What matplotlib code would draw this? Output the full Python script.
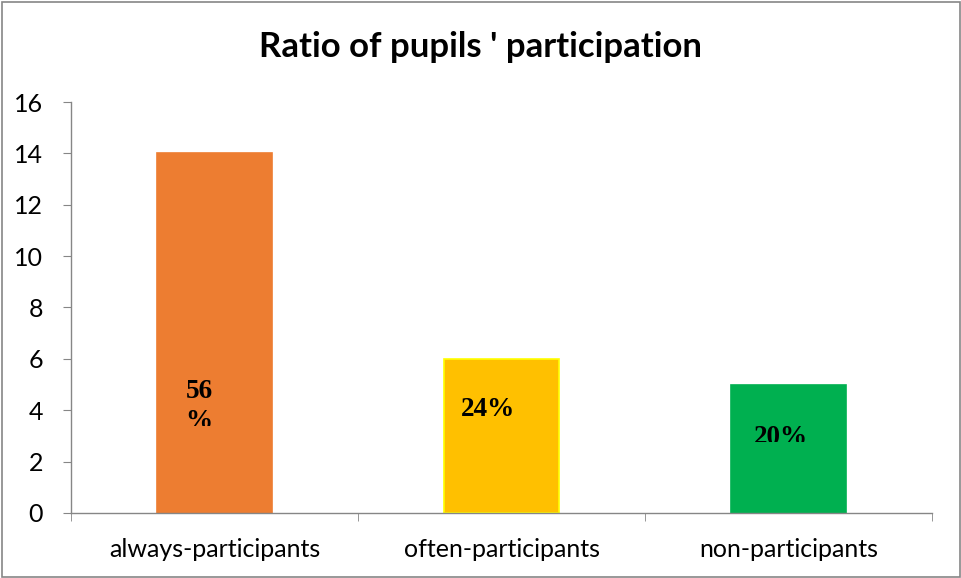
import matplotlib
matplotlib.use("Agg")
import matplotlib.pyplot as plt
from matplotlib.patches import Rectangle
from matplotlib.transforms import Bbox, TransformedBbox

categories = ["always-participants", "often-participants", "non-participants"]
counts = [14, 6, 5]
colors = ["#ED7D31", "#FFC000", "#00B050"]
edges = ["#ED7D31", "#FFFF00", "#00B050"]

# percent labels: (bar index, text, x offset, y centre, clip bottom)
labels = [
    (0, "56", -0.054, 4.71, 0.0),
    (0, "%", -0.054, 3.55, 3.39),
    (1, "24%", -0.047, 4.01, 0.0),
    (2, "20%", -0.026, 2.93, 2.76),
]

fig = plt.figure(figsize=(9.62, 5.78), dpi=100)
ax = fig.add_axes([0.0738, 0.1125, 0.8952, 0.711])

x = list(range(len(categories)))
ax.bar(x, counts, width=0.4, color=colors, edgecolor=edges, linewidth=1.2, zorder=2)

ax.set_xlim(-0.5, 2.5)
ax.set_ylim(0, 16)
ax.set_yticks(range(0, 17, 2))
ax.set_xticks(x)
ax.set_xticklabels(categories)
ax.set_xticks([-0.5, 0.5, 1.5, 2.5], minor=True)
ax.tick_params(axis="x", which="major", length=0, pad=18, labelsize=18)
ax.tick_params(axis="x", which="minor", length=6, color="#868686")
ax.tick_params(axis="y", length=6, color="#868686", labelsize=18, pad=14)
for lab in ax.get_xticklabels() + ax.get_yticklabels():
    lab.set_fontfamily("Lato")

for s in ["top", "right"]:
    ax.spines[s].set_visible(False)
for s in ["left", "bottom"]:
    ax.spines[s].set_color("#868686")
    ax.spines[s].set_linewidth(1.0)

for i, txt, dx, yc, clip in labels:
    t = ax.text(i + dx, yc, txt, ha="center", va="center",
                fontsize=19.5, fontweight="bold", family="Liberation Serif", zorder=3)
    if clip > 0:
        bb = Bbox.from_extents(i - 0.2, clip, i + 0.2, 16)
        t.set_clip_box(TransformedBbox(bb, ax.transData))
        t.set_clip_on(True)

fig.text(0.5, 0.918, "Ratio of pupils ' participation", ha="center", va="center",
         fontsize=25, fontweight="bold", family="Lato")

fig.patches.append(Rectangle((0.002, 0.002), 0.996, 0.994, transform=fig.transFigure,
                             fill=False, edgecolor="#868686", linewidth=1.2))

fig.savefig("out.png", dpi=100)
